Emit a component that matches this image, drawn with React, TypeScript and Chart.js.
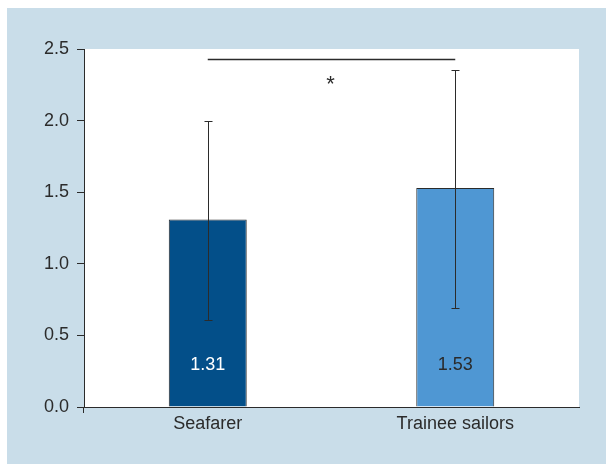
import React, { useEffect, useRef } from "react";
import { Chart, registerables } from "chart.js";

Chart.register(...registerables);

const categories = ["Seafarer", "Trainee sailors"];
const means = [1.31, 1.53];
const errorLow = [0.61, 0.69];
const errorHigh = [2.0, 2.35];
const valueLabels = ["1.31", "1.53"];
const barColors = ["#034f89", "#4f97d3"];
const valueLabelColors = ["#ffffff", "#2a2a2a"];
const yMin = 0;
const yMax = 2.5;
const yStep = 0.5;
const sigLevel = 2.43;
const sigStarLevel = 2.27;
const sigMark = "*";
const valueLabelLevel = 0.29;

const FONT = "'Liberation Sans', Arial, sans-serif";
const INK = "#2b2b2b";

const bgPlugin = {
  id: "bgPlugin",
  beforeDraw(chart: any) {
    const { ctx, chartArea } = chart;
    ctx.save();
    ctx.fillStyle = "#ffffff";
    ctx.fillRect(0, 0, chart.width, chart.height);
    ctx.fillStyle = "#c9dde9";
    ctx.fillRect(7, 8, chart.width - 7, chart.height - 8);
    ctx.fillStyle = "#ffffff";
    ctx.fillRect(chartArea.left, chartArea.top, chartArea.right - chartArea.left, chartArea.bottom - chartArea.top);
    ctx.restore();
  },
};

const overlayPlugin = {
  id: "overlayPlugin",
  afterDatasetsDraw(chart: any) {
    const { ctx, chartArea } = chart;
    const yScale = chart.scales.y;
    const meta = chart.getDatasetMeta(0);
    ctx.save();
    // error bars
    ctx.strokeStyle = INK;
    ctx.lineWidth = 1;
    meta.data.forEach((bar: any, i: number) => {
      const x = Math.round(bar.x) + 0.5;
      const yl = Math.round(yScale.getPixelForValue(errorLow[i])) + 0.5;
      const yh = Math.round(yScale.getPixelForValue(errorHigh[i])) + 0.5;
      ctx.beginPath();
      ctx.moveTo(x, yl);
      ctx.lineTo(x, yh);
      ctx.moveTo(x - 4, yl);
      ctx.lineTo(x + 4, yl);
      ctx.moveTo(x - 4, yh);
      ctx.lineTo(x + 4, yh);
      ctx.stroke();
    });
    // value labels inside bars
    ctx.font = `18px ${FONT}`;
    ctx.textAlign = "center";
    ctx.textBaseline = "middle";
    meta.data.forEach((bar: any, i: number) => {
      ctx.fillStyle = valueLabelColors[i];
      ctx.fillText(valueLabels[i], bar.x, yScale.getPixelForValue(valueLabelLevel));
    });
    // significance line
    const x0 = meta.data[0].x;
    const x1 = meta.data[1].x;
    const ys = Math.round(yScale.getPixelForValue(sigLevel)) + 0.5;
    ctx.lineWidth = 1.5;
    ctx.beginPath();
    ctx.moveTo(x0, ys);
    ctx.lineTo(x1, ys);
    ctx.stroke();
    ctx.fillStyle = INK;
    ctx.font = `22px ${FONT}`;
    ctx.fillText(sigMark, (x0 + x1) / 2 - 1, yScale.getPixelForValue(sigStarLevel) + 3);
    // small tick below origin
    ctx.lineWidth = 1;
    ctx.beginPath();
    const xl = Math.round(chartArea.left) - 0.5;
    ctx.moveTo(xl, chartArea.bottom);
    ctx.lineTo(xl, chartArea.bottom + 6);
    ctx.stroke();
    ctx.restore();
  },
};

export default function App() {
  const ref = useRef<HTMLCanvasElement | null>(null);
  useEffect(() => {
    if (!ref.current) return;
    const chart = new Chart(ref.current, {
      type: "bar",
      data: {
        labels: categories,
        datasets: [
          {
            data: means,
            backgroundColor: barColors,
            borderColor: INK,
            borderWidth: 1,
            categoryPercentage: 1,
            barPercentage: 0.315,
          },
        ],
      },
      options: {
        responsive: false,
        animation: false,
        layout: { padding: { left: 0, top: 49, right: 27, bottom: 0 } },
        plugins: { legend: { display: false }, tooltip: { enabled: false } },
        scales: {
          x: {
            grid: { display: false, drawTicks: false },
            border: { display: true, color: INK, width: 1 },
            ticks: { color: INK, font: { family: FONT, size: 18 }, padding: 6 },
            afterFit: (s: any) => {
              s.height = 57;
            },
          },
          y: {
            min: yMin,
            max: yMax,
            grid: { drawOnChartArea: false, drawTicks: true, tickLength: 7, color: INK },
            border: { display: true, color: INK, width: 1 },
            ticks: {
              stepSize: yStep,
              color: INK,
              font: { family: FONT, size: 18 },
              padding: 8,
              callback: (v: any) => Number(v).toFixed(1),
            },
            afterFit: (s: any) => {
              s.width = 84;
            },
          },
        },
      },
      plugins: [bgPlugin, overlayPlugin],
    });
    return () => chart.destroy();
  }, []);
  return (
    <div style={{ position: "absolute", left: 0, top: 0, width: 606, height: 464 }}>
      <canvas ref={ref} width={606} height={464} style={{ display: "block" }} />
    </div>
  );
}
